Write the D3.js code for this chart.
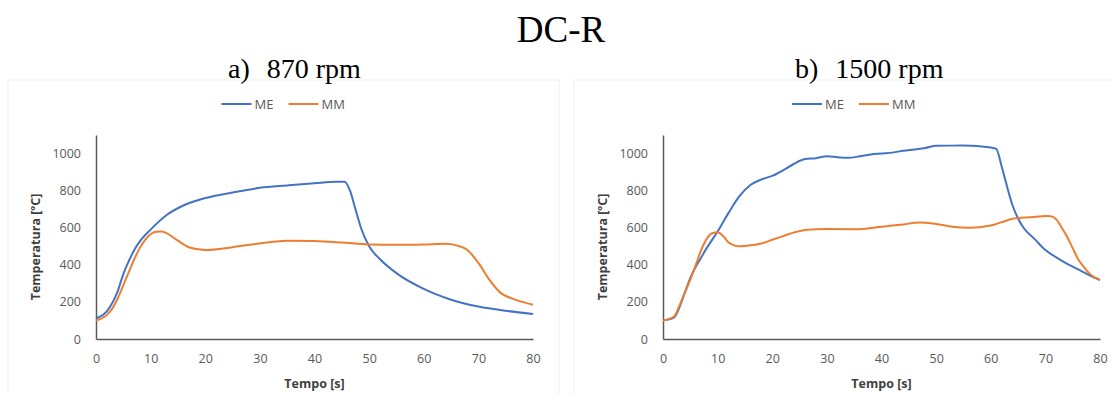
<!DOCTYPE html>
<html>
<head>
<meta charset="utf-8">
<script src="https://cdn.jsdelivr.net/npm/d3@7/dist/d3.min.js"></script>
<style>
  body { margin: 0; background: #fff; }
  svg { display: block; }
  .tick text { font-family: "Open Sans", sans-serif; font-size: 12.5px; fill: #595959; }
  .axtitle { font-family: "Open Sans", sans-serif; font-size: 12.5px; font-weight: bold; fill: #404040; }
  .leg { font-family: "Open Sans", sans-serif; font-size: 13px; fill: #595959; }
  .ttl { font-family: "Liberation Serif", serif; fill: #000; }
</style>
</head>
<body>
<script>
var width = 1110, height = 394;

var seriesNames = ["ME", "MM"];
var colors = ["#4472C4", "#ED7D31"];
var xTicks = [0, 10, 20, 30, 40, 50, 60, 70, 80];
var yTicks = [0, 200, 400, 600, 800, 1000];

// a) 870 rpm
var t870ME = [0, 2, 3, 4, 5, 6, 7, 8, 10, 13, 16, 20, 25, 30, 35, 40, 44, 45.5, 46.5, 47.5, 48.5, 50, 52, 55, 60, 65, 70, 75, 80];
var v870ME = [110, 150, 195, 260, 350, 420, 480, 525, 590, 670, 720, 760, 790, 815, 828, 840, 848, 848, 800, 700, 600, 500, 430, 355, 270, 212, 175, 152, 135];
var t870MM = [0, 2, 3, 4, 5, 6, 7, 8, 9, 10, 11, 12, 13, 15, 17, 20, 25, 30, 35, 40, 45, 50, 55, 60, 64, 66, 68, 70, 72, 74, 76, 78, 80];
var v870MM = [100, 130, 165, 220, 290, 360, 430, 490, 535, 565, 578, 580, 570, 530, 495, 480, 495, 515, 530, 528, 520, 510, 508, 510, 513, 505, 480, 410, 320, 250, 220, 200, 185];

// b) 1500 rpm
var t1500ME = [0, 2, 3, 4, 5, 6, 7, 8, 10, 12, 14, 16, 18, 20, 22, 24, 26, 28, 30, 32, 34, 36, 38, 40, 42, 44, 46, 48, 50, 55, 60, 61, 62, 63, 64, 65, 66, 68, 70, 72, 74, 76, 78, 80];
var v1500ME = [100, 115, 170, 250, 330, 390, 440, 490, 580, 680, 770, 830, 860, 880, 910, 945, 970, 975, 985, 980, 977, 985, 995, 1000, 1005, 1015, 1022, 1030, 1042, 1043, 1032, 1025, 930, 820, 720, 650, 600, 540, 480, 440, 405, 375, 345, 318];
var t1500MM = [0, 2, 3, 4, 5, 6, 7, 8, 9, 10, 11, 12, 13, 14, 16, 18, 20, 22, 24, 26, 28, 30, 35, 40, 44, 47, 50, 53, 56, 60, 62, 64, 66, 68, 70, 71, 72, 73, 74, 75, 76, 77, 78, 80];
var v1500MM = [100, 120, 180, 250, 320, 400, 480, 540, 570, 575, 555, 520, 505, 500, 505, 515, 535, 555, 575, 588, 592, 593, 592, 605, 618, 628, 620, 605, 600, 612, 630, 648, 655, 658, 663, 662, 645, 600, 550, 490, 430, 390, 355, 318];

var panels = [
  { label: "a)", rpm: "870 rpm", frame: [8, 80, 551, 330], plot: [96, 135, 533, 339], labX: 228,
    t: [t870ME, t870MM], v: [v870ME, v870MM] },
  { label: "b)", rpm: "1500 rpm", frame: [574, 80, 560, 330], plot: [663, 135, 1100, 339], labX: 795,
    t: [t1500ME, t1500MM], v: [v1500ME, v1500MM] }
];

var svg = d3.select("body").append("svg")
  .attr("width", width)
  .attr("height", height);

svg.append("text")
  .attr("class", "ttl")
  .attr("x", 561).attr("y", 42)
  .attr("text-anchor", "middle")
  .style("font-size", "37px")
  .text("DC-R");

panels.forEach(function (p) {
  var f = p.frame;
  svg.append("rect")
    .attr("x", f[0]).attr("y", f[1])
    .attr("width", f[2]).attr("height", f[3])
    .attr("fill", "none")
    .attr("stroke", "#efefef");

  var hdr = svg.append("text")
    .attr("class", "ttl")
    .attr("x", p.labX).attr("y", 78)
    .style("font-size", "28px");
  hdr.append("tspan").text(p.label);
  hdr.append("tspan").attr("dx", 17).text(p.rpm);

  var x = d3.scaleLinear().domain([0, 80]).range([p.plot[0], p.plot[2]]);
  var y = d3.scaleLinear().domain([0, 1100]).range([p.plot[3], p.plot[1]]);

  var xa = svg.append("g")
    .attr("transform", "translate(0," + p.plot[3] + ")")
    .call(d3.axisBottom(x).tickValues(xTicks).tickSize(0).tickPadding(15));
  xa.select(".domain").attr("stroke", "#595959").attr("stroke-width", 1.5);

  var ya = svg.append("g")
    .attr("transform", "translate(" + p.plot[0] + ",0)")
    .call(d3.axisLeft(y).tickValues(yTicks).tickFormat(d3.format("d")).tickSize(0).tickPadding(15));
  ya.select(".domain").attr("stroke", "#595959").attr("stroke-width", 1.5);

  svg.append("text")
    .attr("class", "axtitle")
    .attr("x", (p.plot[0] + p.plot[2]) / 2)
    .attr("y", 388)
    .attr("text-anchor", "middle")
    .text("Tempo [s]");

  svg.append("text")
    .attr("class", "axtitle")
    .attr("transform", "translate(" + (p.plot[0] - 56) + "," + ((p.plot[1] + p.plot[3]) / 2 + 10) + ") rotate(-90)")
    .attr("text-anchor", "middle")
    .text("Temperatura [ºC]");

  var line = d3.line()
    .x(function (d) { return x(d[0]); })
    .y(function (d) { return y(d[1]); })
    .curve(d3.curveMonotoneX);

  p.t.forEach(function (ts, i) {
    var pts = ts.map(function (t, j) { return [t, p.v[i][j]]; });
    svg.append("path")
      .datum(pts)
      .attr("d", line)
      .attr("fill", "none")
      .attr("stroke", colors[i])
      .attr("stroke-width", 2);
  });

  // legend centred over the frame
  var cx = f[0] + f[2] / 2;
  var lg = svg.append("g").attr("transform", "translate(" + (cx - 62) + ",104)");
  seriesNames.forEach(function (n, i) {
    var g = lg.append("g").attr("transform", "translate(" + (i * 67) + ",0)");
    g.append("line").attr("x1", 0).attr("x2", 30).attr("y1", 0).attr("y2", 0)
      .attr("stroke", colors[i]).attr("stroke-width", 2);
    g.append("text").attr("class", "leg").attr("x", 33).attr("y", 4.5).text(n);
  });
});
</script>
</body>
</html>
